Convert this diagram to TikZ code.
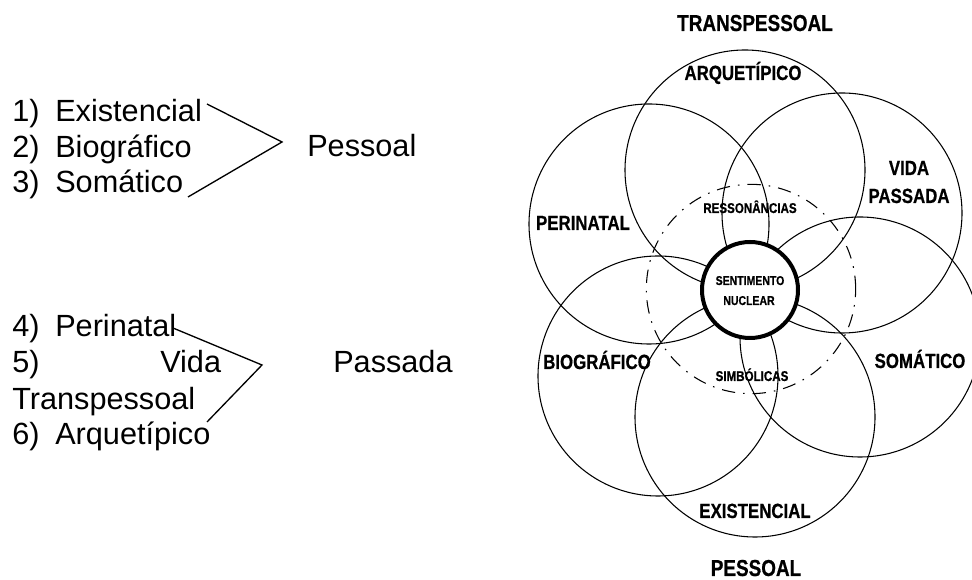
\documentclass[tikz,border=0pt]{standalone}
\usepackage{fontspec}
\setmainfont{Liberation Sans}
\newfontfamily\tagfont[FakeStretch=0.82, BoldFeatures={FakeBold=0.6}]{Liberation Sans}
\usetikzlibrary{positioning}
\tikzstyle{item} = [anchor=base west, inner sep=0, font=\fontsize{23}{27}\selectfont]
\tikzstyle{tag} = [anchor=base, inner sep=0, font=\tagfont\bfseries\fontsize{15.4}{17}\selectfont]
\tikzstyle{smalltag} = [anchor=base, inner sep=0, font=\tagfont\bfseries\fontsize{10.6}{12}\selectfont]
\tikzstyle{tinytag} = [anchor=base, inner sep=0, font=\tagfont\bfseries\fontsize{9.6}{11}\selectfont]
\tikzstyle{title} = [anchor=base, inner sep=0, font=\tagfont\bfseries\fontsize{17.3}{20}\selectfont]
\tikzstyle{area} = [circle, draw, line width=0.8pt, minimum size=180pt, inner sep=0]
\tikzstyle{core} = [circle, draw, fill=white, line width=3pt, minimum size=72pt, inner sep=0]
\tikzstyle{halo} = [circle, draw, line width=0.8pt, dash pattern=on 10pt off 6pt on 1.2pt off 6pt, minimum size=157pt, inner sep=0]
\tikzstyle{brace} = [line width=1pt]

\begin{document}
\begin{tikzpicture}[x=0.75pt, y=-0.75pt]
    \useasboundingbox (0,0) rectangle (972,580);
    % left: list of levels
    \node (n1) [item] at (12,122) {1)};
    \node (t1) [item] at (55,122) {Existencial};
    \node (n2) [item] at (12,158) {2)};
    \node (t2) [item] at (55,158) {Biográfico};
    \node (n3) [item] at (12,193) {3)};
    \node (t3) [item] at (55,193) {Somático};
    \node (pes) [item] at (307,157) {Pessoal};
    \coordinate (b1) at (207,104);
    \coordinate (bv1) at (282,142);
    \coordinate (b3) at (188,197);
    \draw [brace] (b1) -- (bv1) -- (b3);

    \node (n4) [item] at (12,337) {4)};
    \node (t4) [item] at (55,337) {Perinatal};
    \node (n5) [item] at (12,373) {5)};
    \node (t5) [item] at (160,373) {Vida};
    \node (pas) [item] at (333,373) {Passada};
    \node (t5b) [item] at (12,410) {Transpessoal};
    \node (n6) [item] at (12,445) {6)};
    \node (t6) [item] at (55,445) {Arquetípico};
    \coordinate (b4) at (173,328);
    \coordinate (bv2) at (262,365);
    \coordinate (b6) at (207,422);
    \draw [brace] (b4) -- (bv2) -- (b6);

    % right: circles
    \node (arq) [area] at (745,170) {};
    \node (vid) [area] at (842,213) {};
    \node (per) [area] at (649,224) {};
    \node (som) [area] at (860,337) {};
    \node (bio) [area] at (658,376) {};
    \node (exi) [area] at (755,417) {};
    \node (res) [halo] at (751,289) {};
    \node (nuc) [core] at (750,290) {};

    \node (ttr) [title] at (755,31) {TRANSPESSOAL};
    \node (tpe) [title] at (756,576) {PESSOAL};
    \node (larq) [tag] at (743,80) {ARQUETÍPICO};
    \node (lvid) [tag] at (909,175) {VIDA};
    \node (lpas) [tag] at (909,203) {PASSADA};
    \node (lper) [tag] at (583,230) {PERINATAL};
    \node (lbio) [tag] at (597,369) {BIOGRÁFICO};
    \node (lsom) [tag] at (920,368) {SOMÁTICO};
    \node (lexi) [tag] at (755,518) {EXISTENCIAL};
    \node (lres) [smalltag] at (750,213) {RESSONÂNCIAS};
    \node (lsim) [smalltag] at (752,381) {SIMBÓLICAS};
    \node (lsen) [tinytag] at (750,285) {SENTIMENTO};
    \node (lnuc) [tinytag] at (749,305) {NUCLEAR};
\end{tikzpicture}
\end{document}
